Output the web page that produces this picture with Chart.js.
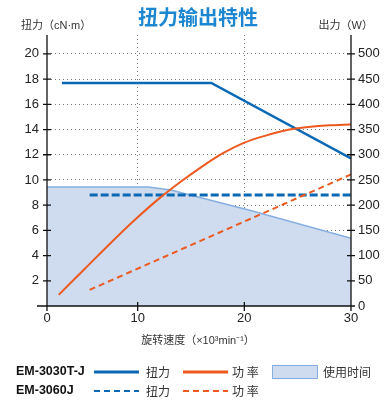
<!DOCTYPE html>
<html>
<head>
  <meta charset="utf-8">
  <title>扭力输出特性</title>
  <script src="https://cdn.jsdelivr.net/npm/chart.js"></script>
  <style>
    body { margin: 0; padding: 0; background: #fff; }
  </style>
</head>
<body>
  <canvas id="grafik" width="385" height="400"></canvas>

  <script>
    // x ekseni: sol kenar "0" olarak etiketleniyor ama orijinalde 10-20-30 aralıkları daha geniş
    var X_MIN = 1.5;
    var X_MAX = 30;
    var xTicks = [X_MIN, 10, 20, 30];

    // EM-3030T-J
    var torkA_x = [2.9, 16.9, 30];
    var torkA = [17.7, 17.7, 11.7];
    var gucA_x = [2.6, 5, 8, 10, 12, 14, 16, 18, 20, 22, 24, 26, 28, 30];
    var gucA = [22, 73, 136, 176, 213, 246, 276, 303, 324, 338, 349, 355, 358.5, 360];

    // EM-3060J
    var torkB_x = [5.5, 30];
    var torkB = [8.8, 8.8];
    var gucB_x = [5.5, 30];
    var gucB = [32, 261];

    // kullanım süresi alanı
    var alan_x = [X_MIN, 11.0, 13.1, 20.5, 30];
    var alan = [9.45, 9.45, 9.2, 7.6, 5.37];

    var MAVI = '#0a68b4';
    var TURUNCU = '#ec5a1f';
    var ALAN_DOLGU = '#cfdbef';
    var ALAN_CIZGI = '#86afe0';
    var YAZI = "'Liberation Sans', 'Noto Sans CJK SC', sans-serif";

    function noktalar(xs, ys) {
      return xs.map(function (v, i) { return { x: v, y: ys[i] }; });
    }

    // eksen çizgileri, başlıklar ve gösterge
    var eksenler = {
      id: 'eksenler',
      afterDraw: function (chart) {
        var ctx = chart.ctx, a = chart.chartArea;
        var sx = chart.scales.x, sy = chart.scales.y, sy2 = chart.scales.y2;
        ctx.save();
        ctx.strokeStyle = '#111';
        ctx.lineWidth = 1.3;
        ctx.beginPath();
        ctx.moveTo(a.left, a.top); ctx.lineTo(a.left, a.bottom + 5);
        ctx.moveTo(a.right, a.top); ctx.lineTo(a.right, a.bottom + 5);
        ctx.moveTo(a.left - 10, a.bottom); ctx.lineTo(a.right, a.bottom);
        sy.ticks.forEach(function (t) {
          var p = sy.getPixelForValue(t.value);
          ctx.moveTo(a.left - 4, p); ctx.lineTo(a.left + 4, p);
        });
        sy2.ticks.forEach(function (t) {
          var p = sy2.getPixelForValue(t.value);
          ctx.moveTo(a.right - 4, p); ctx.lineTo(a.right + 4, p);
        });
        sx.ticks.forEach(function (t) {
          var p = sx.getPixelForValue(t.value);
          ctx.moveTo(p, a.bottom - 4); ctx.lineTo(p, a.bottom + 5);
        });
        ctx.stroke();

        // başlıklar
        ctx.fillStyle = '#1c87d0';
        ctx.font = "bold 20px 'Noto Sans CJK SC', sans-serif";
        ctx.textAlign = 'center';
        ctx.textBaseline = 'middle';
        ctx.fillText('扭力输出特性', 198, 17);

        ctx.fillStyle = '#333';
        ctx.font = '11px ' + YAZI;
        ctx.textAlign = 'left';
        ctx.fillText('扭力（cN·m）', 21, 26);
        ctx.textAlign = 'right';
        ctx.fillText('出力（W）', 373, 26);
        ctx.textAlign = 'center';
        ctx.fillText('旋转速度（×10³min⁻¹）', 198, 341);

        // gösterge
        var satir1 = 372, satir2 = 391;
        ctx.fillStyle = '#111';
        ctx.font = 'bold 12.5px ' + YAZI;
        ctx.textAlign = 'left';
        ctx.fillText('EM-3030T-J', 16, satir1);
        ctx.fillText('EM-3060J', 16, satir2);

        function cizgi(x1, x2, yy, renk, kalin, dash) {
          ctx.beginPath();
          ctx.strokeStyle = renk;
          ctx.lineWidth = kalin;
          ctx.setLineDash(dash);
          ctx.moveTo(x1, yy); ctx.lineTo(x2, yy);
          ctx.stroke();
          ctx.setLineDash([]);
        }
        cizgi(94, 139, satir1, MAVI, 3, []);
        cizgi(183, 228, satir1, TURUNCU, 3, []);
        cizgi(94, 139, satir2, MAVI, 2, [6, 4]);
        cizgi(183, 228, satir2, TURUNCU, 2, [6, 4]);

        ctx.fillStyle = ALAN_DOLGU;
        ctx.fillRect(272.5, 365.5, 45, 13);
        ctx.strokeStyle = ALAN_CIZGI;
        ctx.lineWidth = 1;
        ctx.strokeRect(272.5, 365.5, 45, 13);

        ctx.fillStyle = '#333';
        ctx.font = "12px 'Noto Sans CJK SC', sans-serif";
        ctx.fillText('扭力', 146, satir1);
        ctx.fillText('功 率', 232, satir1);
        ctx.fillText('使用时间', 323, satir1);
        ctx.fillText('扭力', 146, satir2);
        ctx.fillText('功 率', 232, satir2);
        ctx.restore();
      }
    };

    var grafik = document.getElementById('grafik').getContext('2d');

    var TorkGrafik = new Chart(grafik, {
      type: 'line',
      data: {
        datasets: [
          {
            label: '使用时间',
            data: noktalar(alan_x, alan),
            yAxisID: 'y',
            borderColor: ALAN_CIZGI,
            backgroundColor: ALAN_DOLGU,
            borderWidth: 1.5,
            fill: 'origin',
            tension: 0,
            pointRadius: 0,
            order: 10
          },
          {
            label: 'EM-3060J 扭力',
            data: noktalar(torkB_x, torkB),
            yAxisID: 'y',
            borderColor: MAVI,
            borderWidth: 3,
            borderDash: [8, 3],
            pointRadius: 0,
            order: 4
          },
          {
            label: 'EM-3060J 功率',
            data: noktalar(gucB_x, gucB),
            yAxisID: 'y2',
            borderColor: TURUNCU,
            borderWidth: 2,
            borderDash: [6, 4],
            pointRadius: 0,
            order: 3
          },
          {
            label: 'EM-3030T-J 扭力',
            data: noktalar(torkA_x, torkA),
            yAxisID: 'y',
            borderColor: MAVI,
            borderWidth: 2.5,
            pointRadius: 0,
            order: 2
          },
          {
            label: 'EM-3030T-J 功率',
            data: noktalar(gucA_x, gucA),
            yAxisID: 'y2',
            borderColor: TURUNCU,
            borderWidth: 2,
            cubicInterpolationMode: 'monotone',
            pointRadius: 0,
            order: 1
          }
        ]
      },
      options: {
        responsive: false,
        animation: false,
        layout: { padding: { top: 35, left: 0, right: 0, bottom: 0 } },
        plugins: {
          legend: { display: false },
          tooltip: { enabled: false }
        },
        scales: {
          x: {
            type: 'linear',
            min: X_MIN,
            max: X_MAX,
            afterBuildTicks: function (scale) {
              scale.ticks = xTicks.map(function (v) { return { value: v }; });
            },
            afterFit: function (scale) { scale.height = 94; },
            ticks: {
              padding: 5,
              color: '#222',
              font: { size: 13, family: YAZI },
              callback: function (v) { return v === X_MIN ? '0' : v; }
            },
            grid: {
              drawTicks: false,
              color: function (c) {
                var v = c.tick ? c.tick.value : null;
                return (v === X_MIN || v === X_MAX) ? 'rgba(0,0,0,0)' : '#777';
              }
            },
            border: { display: false, dash: [1, 3] }
          },
          y: {
            position: 'left',
            min: 0,
            max: 21.5,
            afterFit: function (scale) { scale.width = 47; },
            ticks: {
              stepSize: 2,
              includeBounds: false,
              padding: 8,
              color: '#222',
              font: { size: 13, family: YAZI },
              callback: function (v) { return v === 0 ? '' : v; }
            },
            grid: {
              drawTicks: false,
              color: function (c) {
                return (c.tick && c.tick.value === 0) ? 'rgba(0,0,0,0)' : '#777';
              }
            },
            border: { display: false, dash: [1, 3] }
          },
          y2: {
            position: 'right',
            min: 0,
            max: 537.5,
            afterFit: function (scale) { scale.width = 34; },
            ticks: {
              stepSize: 50,
              includeBounds: false,
              padding: 7,
              color: '#222',
              font: { size: 13, family: YAZI }
            },
            grid: { display: false, drawTicks: false },
            border: { display: false }
          }
        }
      },
      plugins: [eksenler]
    });
  </script>
</body>
</html>
